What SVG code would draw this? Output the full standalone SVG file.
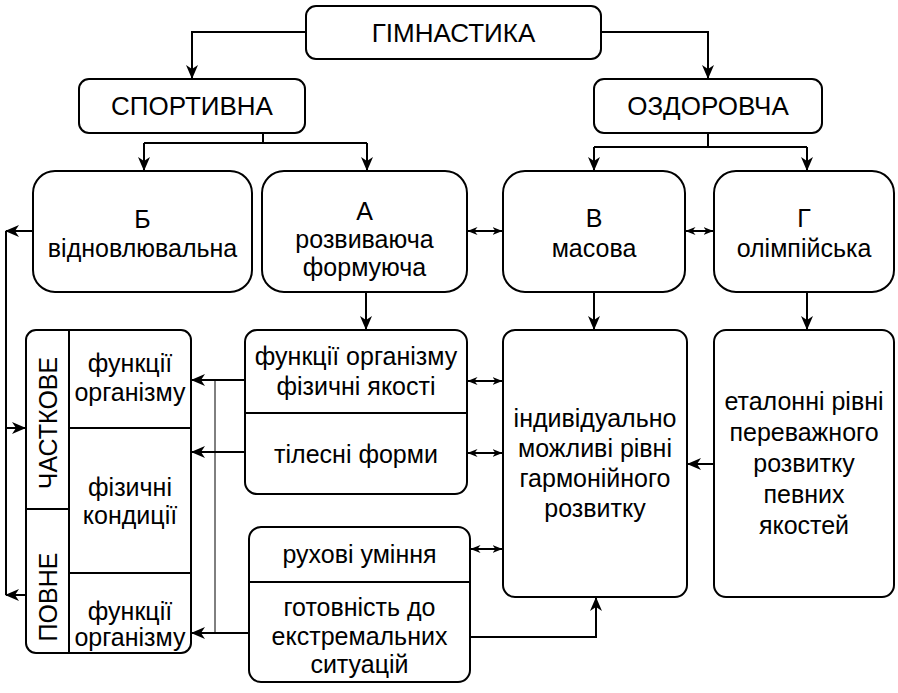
<svg xmlns="http://www.w3.org/2000/svg" width="898" height="693" viewBox="0 0 898 693">
<style>
.b{fill:#fff;stroke:#000;stroke-width:2}
.d{fill:none;stroke:#000;stroke-width:2}
.c{fill:none;stroke:#000;stroke-width:2}
text{font-family:'Liberation Sans',Arial,sans-serif;font-size:25px;fill:#000;text-anchor:middle}
.h{font-size:26px}
</style>
<defs>
<marker id="a" markerUnits="userSpaceOnUse" markerWidth="14" markerHeight="14" viewBox="0 0 14 14" refX="13" refY="7" orient="auto"><path d="M0,1 L14,7 L0,13 L4,7 Z" fill="#000"/></marker>
<marker id="s" markerUnits="userSpaceOnUse" markerWidth="10" markerHeight="10" viewBox="0 0 10 10" refX="9.5" refY="5" orient="auto-start-reverse"><path d="M0,1 L10,5 L0,9 L3,5 Z" fill="#000"/></marker>
</defs>
<rect width="898" height="693" fill="#fff"/>
<g id="connectors">
<path class="c" d="M306,32 H192 V78" marker-end="url(#a)"/>
<path class="c" d="M601,32 H708 V78" marker-end="url(#a)"/>
<path class="c" d="M263,133 V143 M144,143 H367"/>
<path class="c" d="M144,143 V170" marker-end="url(#a)"/>
<path class="c" d="M367,143 V170" marker-end="url(#a)"/>
<path class="c" d="M708,133 V147 M594,147 H807"/>
<path class="c" d="M594,147 V170" marker-end="url(#a)"/>
<path class="c" d="M807,147 V170" marker-end="url(#a)"/>
<path class="c" d="M468,231 H502" marker-start="url(#s)" marker-end="url(#s)"/>
<path class="c" d="M686,231 H713" marker-start="url(#s)" marker-end="url(#s)"/>
<path class="c" d="M366,292 V329" marker-end="url(#a)"/>
<path class="c" d="M594,292 V329" marker-end="url(#a)"/>
<path class="c" d="M807,292 V329" marker-end="url(#a)"/>
<path class="c" d="M33,231 H6" marker-end="url(#a)"/>
<path class="c" d="M6,231 V595"/>
<path class="c" d="M6,428 H25" marker-end="url(#a)"/>
<path class="c" d="M26,595 H6" marker-end="url(#a)"/>
<path class="c" d="M245,380 H192" marker-end="url(#a)"/>
<path class="c" d="M245,452 H192" marker-end="url(#a)"/>
<path class="c" d="M249,633 H192" marker-end="url(#a)"/>
<path fill="none" stroke="#000" stroke-width="1" d="M215,380 V633"/>
<path class="c" d="M468,381 H502" marker-start="url(#s)" marker-end="url(#s)"/>
<path class="c" d="M468,453 H502" marker-start="url(#s)" marker-end="url(#s)"/>
<path class="c" d="M471,549 H502" marker-start="url(#s)" marker-end="url(#s)"/>
<path class="c" d="M714,464 H688" marker-end="url(#a)"/>
<path class="c" d="M471,637 H596 V598" marker-start="url(#a)" marker-end="url(#a)"/>
</g>
<g id="gymnastics"><rect class="b" x="306" y="6" width="295" height="53" rx="10"/><text class="h" x="453.5" y="42">ГІМНАСТИКА</text></g>
<g id="sport"><rect class="b" x="79" y="79" width="226" height="54" rx="10"/><text class="h" x="192" y="115">СПОРТИВНА</text></g>
<g id="health"><rect class="b" x="594" y="79" width="228" height="54" rx="10"/><text class="h" x="708" y="115">ОЗДОРОВЧА</text></g>
<g id="b"><rect class="b" x="33" y="171" width="219" height="121" rx="22"/><text x="142.5" y="228">Б</text><text x="142.5" y="257">відновлювальна</text></g>
<g id="a-box"><rect class="b" x="262" y="171" width="205" height="121" rx="22"/><text x="364.5" y="220">А</text><text x="364.5" y="248">розвиваюча</text><text x="364.5" y="276">формуюча</text></g>
<g id="v"><rect class="b" x="503" y="171" width="182" height="121" rx="22"/><text x="594" y="227">В</text><text x="594" y="257">масова</text></g>
<g id="g"><rect class="b" x="714" y="171" width="180" height="121" rx="22"/><text x="804" y="227">Г</text><text x="804" y="257">олімпійська</text></g>
<g id="left-table"><rect class="b" x="26" y="330" width="165" height="323" rx="10"/>
<path class="d" d="M69,330 V653 M69,428 H191 M69,573 H191 M26,509 H69"/>
<text transform="translate(57,423) rotate(-90)">ЧАСТКОВЕ</text>
<text transform="translate(57,597) rotate(-90)">ПОВНЕ</text>
<text x="130" y="372">функції</text><text x="130" y="401">організму</text>
<text x="130" y="496">фізичні</text><text x="130" y="524">кондиції</text>
<text x="130" y="620">функції</text><text x="130" y="646">організму</text>
</g>
<g id="functions"><rect class="b" x="245" y="330" width="222" height="164" rx="12"/><path class="d" d="M245,413 H467"/>
<text x="356" y="365">функції організму</text><text x="356" y="395">фізичні якості</text><text x="356" y="463">тілесні форми</text></g>
<g id="skills"><rect class="b" x="249" y="527" width="221" height="155" rx="12"/><path class="d" d="M249,582 H470"/>
<text x="359.5" y="563">рухові уміння</text><text x="359.5" y="616">готовність до</text><text x="359.5" y="645">екстремальних</text><text x="359.5" y="673">ситуацій</text></g>
<g id="individual"><rect class="b" x="503" y="330" width="184" height="267" rx="12"/>
<text x="595" y="427">індивідуально</text><text x="595" y="457">можливі рівні</text><text x="595" y="487">гармонійного</text><text x="595" y="517">розвитку</text></g>
<g id="etalon"><rect class="b" x="714" y="330" width="180" height="267" rx="12"/>
<text x="804" y="410">еталонні рівні</text><text x="804" y="441">переважного</text><text x="804" y="472">розвитку</text><text x="804" y="503">певних</text><text x="804" y="534">якостей</text></g>
</svg>
